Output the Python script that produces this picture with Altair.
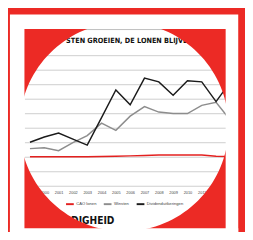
import math
import altair as alt
import pandas as pd

# ---------------- data ----------------
years = list(range(1999, 2014))
cao_lonen = [100, 100, 100, 100, 100, 100.5, 101, 101.5, 102, 103, 103, 103, 103, 101, 100.5]
winsten = [114, 115.5, 110.5, 124.5, 136.5, 158, 145.5, 170, 186.5, 177, 174.5, 174.5, 188.5, 194, 163]
dividend = [125, 134, 141, 130.5, 120, 167.5, 215, 189.5, 235.5, 229, 206, 231, 229, 195, 229]
series = ["CAO lonen", "Winsten", "Dividenduitkeringen"]
label_years = list(range(2000, 2014))
grid_values = [50, 75, 100, 125, 150, 175, 200, 225, 250, 275]
title_text = "STEN GROEIEN, DE LONEN BLIJVE"
bottom_text = "ONRECHTVAARDIGHEID"

# ---------------- style ----------------
RED = "#ec2a25"
colors = ["#e3201f", "#8d8d8d", "#1b1b1b"]
W, H = 208, 165
COND = "Liberation Sans Narrow, DejaVu Sans Condensed"

df = pd.DataFrame({
    "Jaar": years * 3,
    "Waarde": cao_lonen + winsten + dividend,
    "Reeks": [s for s in series for _ in years],
})

x_scale = alt.Scale(domain=[1998.6149, 2012.6689], nice=False, zero=False)
y_scale = alt.Scale(domain=[50, 325], nice=False, zero=False)

lines = alt.Chart(df).mark_line(strokeWidth=1.5).encode(
    x=alt.X("Jaar:Q", scale=x_scale,
            axis=alt.Axis(values=label_years, format="d", title=None, domain=False,
                          ticks=False, grid=False, labelFontSize=4, labelColor="#444",
                          labelFont="Liberation Sans", labelPadding=5, labelFlush=False)),
    y=alt.Y("Waarde:Q", scale=y_scale,
            axis=alt.Axis(values=grid_values, grid=True, gridColor="#cdcdcd", gridWidth=1,
                          labels=False, ticks=False, domain=False, title=None)),
    color=alt.Color("Reeks:N", scale=alt.Scale(domain=series, range=colors),
                    legend=alt.Legend(orient="none", legendX=42, legendY=179,
                                      direction="horizontal", title=None,
                                      symbolType="stroke", symbolSize=64,
                                      symbolStrokeWidth=2, labelFontSize=4.3,
                                      labelColor="#444", labelFont="Liberation Sans",
                                      labelOffset=1.5, columnPadding=3, padding=0)),
)

one = pd.DataFrame({"t": [title_text]})
two = pd.DataFrame({"t": [bottom_text]})

title = alt.Chart(one).mark_text(
    align="left", baseline="alphabetic", fontSize=7.5, fontWeight="bold",
    font=COND, color="#111",
).encode(x=alt.value(43), y=alt.value(17), text="t:N")

bottom = alt.Chart(two).mark_text(
    align="right", baseline="alphabetic", fontSize=10.5, fontWeight="bold",
    font=COND, color="#111",
).encode(x=alt.value(93), y=alt.value(205), text="t:N")

top_line = alt.Chart(one).mark_rule(color="#bdbdbd", strokeWidth=1).encode(
    x=alt.value(0), x2=alt.value(W), y=alt.value(3.5))


def hole_path(rx, ry, n=144, big=400):
    outer = f"M{-big},{-big}L{big},{-big}L{big},{big}L{-big},{big}Z"
    pts = []
    for i in range(n):
        t = -2 * math.pi * i / n
        pts.append(f"{rx * math.cos(t):.2f},{ry * math.sin(t):.2f}")
    return outer + "M" + "L".join(pts) + "Z"


mask = alt.Chart(one).mark_point(
    shape=hole_path(108, 108), size=4, filled=True, color=RED, opacity=1, strokeWidth=0
).encode(x=alt.value(103), y=alt.value(104))


def rect(x1, x2, y1, y2):
    return alt.Chart(one).mark_rect(color="white").encode(
        x=alt.value(x1), x2=alt.value(x2), y=alt.value(y1), y2=alt.value(y2))


frame = [
    rect(-15, 221, -12, 3),
    rect(-15, 0, 3, 217),
    rect(208, 221, 3, 217),
    rect(-15, 221, 209, 217),
]

chart = alt.layer(top_line, title, bottom, lines, mask, *frame).properties(
    width=W, height=H,
    autosize=alt.AutoSizeParams(type="none"),
    padding={"left": 17, "top": 15, "right": 20, "bottom": 44},
    background="white",
).configure_view(stroke=None)

chart.save("out.html", embed_options={"renderer": "svg", "actions": False})
